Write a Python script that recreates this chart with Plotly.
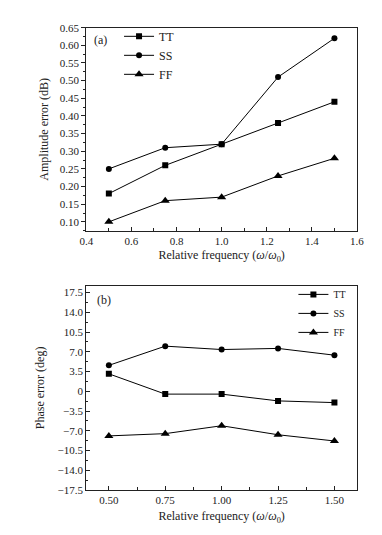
import plotly.graph_objects as go

# ---- data ----
freq = [0.50, 0.75, 1.00, 1.25, 1.50]
series_names = ["TT", "SS", "FF"]
amp_TT = [0.18, 0.26, 0.32, 0.38, 0.44]
amp_SS = [0.25, 0.31, 0.32, 0.51, 0.62]
amp_FF = [0.10, 0.16, 0.17, 0.23, 0.28]
phase_TT = [3.1, -0.5, -0.5, -1.7, -2.0]
phase_SS = [4.6, 8.0, 7.4, 7.6, 6.4]
phase_FF = [-7.9, -7.5, -6.1, -7.7, -8.8]

amp_yticks = [0.10, 0.15, 0.20, 0.25, 0.30, 0.35, 0.40, 0.45, 0.50, 0.55, 0.60, 0.65]
amp_xticks = [0.4, 0.6, 0.8, 1.0, 1.2, 1.4, 1.6]
phase_yticks = [17.5, 14.0, 10.5, 7.0, 3.5, 0, -3.5, -7.0, -10.5, -14.0, -17.5]
phase_yticktext = ["17.5", "14.0", "10.5", "7.0", "3.5", "0", "\u22123.5", "\u22127.0",
                   "\u221210.5", "\u221214.0", "\u221217.5"]
phase_xticks = [0.50, 0.75, 1.00, 1.25, 1.50]

FONT = "Liberation Serif"
INK = "#222222"
symbols = ["square", "circle", "triangle-up"]
sizes = [6, 6, 8]

fig = go.Figure()
for name, ys, sym, sz in zip(series_names, [amp_TT, amp_SS, amp_FF], symbols, sizes):
    fig.add_trace(go.Scatter(x=freq, y=ys, name=name, mode="lines+markers",
                             line=dict(color="black", width=1),
                             marker=dict(symbol=sym, color="black", size=sz),
                             xaxis="x", yaxis="y", legend="legend", legendgroup="a" + name))
for name, ys, sym, sz in zip(series_names, [phase_TT, phase_SS, phase_FF], symbols, sizes):
    fig.add_trace(go.Scatter(x=freq, y=ys, name=name, mode="lines+markers",
                             line=dict(color="black", width=1),
                             marker=dict(symbol=sym, color="black", size=sz),
                             xaxis="x2", yaxis="y2", legend="legend2", legendgroup="b" + name))

W, H = 382, 535
xd = [74 / W, 355 / W]
ya = [1 - 222 / H, 1 - 14 / H]
yb = [1 - 487 / H, 1 - 278 / H]

axis_common = dict(showline=True, linecolor=INK, linewidth=1, mirror=True,
                   tickcolor=INK, showgrid=False, zeroline=False,
                   tickfont=dict(family=FONT, size=11, color=INK))
xtitle = "Relative frequency (<i>\u03c9</i>/<i>\u03c9</i><sub>0</sub>)"
tfont = dict(family=FONT, size=12, color=INK)

fig.update_layout(
    width=W, height=H, margin=dict(l=0, r=0, t=0, b=0),
    paper_bgcolor="white", plot_bgcolor="white",
    font=dict(family=FONT, size=11, color=INK),
    xaxis=dict(domain=xd, anchor="y", range=[0.4, 1.6], tickvals=amp_xticks, tickformat=".1f",
               ticks="inside", ticklen=4,
               minor=dict(dtick=0.1, ticks="inside", ticklen=3, tickcolor=INK),
               title=dict(text=xtitle, font=tfont, standoff=4),
               **axis_common),
    yaxis=dict(domain=ya, anchor="x", range=[0.074, 0.65], tickvals=amp_yticks, tickformat=".2f",
               ticks="outside", ticklen=4,
               minor=dict(dtick=0.025, tick0=0.1, ticks="outside", ticklen=2, tickcolor=INK),
               title=dict(text="Amplitude error (dB)", font=tfont, standoff=8),
               **axis_common),
    xaxis2=dict(domain=xd, anchor="y2", range=[0.4, 1.6], tickvals=phase_xticks, tickformat=".2f",
                ticks="inside", ticklen=4,
                minor=dict(dtick=0.125, tick0=0.5, ticks="inside", ticklen=3, tickcolor=INK),
                title=dict(text=xtitle, font=tfont, standoff=6),
                **axis_common),
    yaxis2=dict(domain=yb, anchor="x2", range=[-17.5, 18.7], tickvals=phase_yticks, ticktext=phase_yticktext,
                ticks="inside", ticklen=4,
                minor=dict(dtick=1.75, tick0=0, ticks="inside", ticklen=2, tickcolor=INK),
                title=dict(text="Phase error (deg)", font=tfont, standoff=10),
                **axis_common),
    legend=dict(x=108 / W, y=1 - 8 / H, xanchor="left", yanchor="top", bgcolor="rgba(0,0,0,0)",
                font=dict(family=FONT, size=12, color=INK), itemwidth=30, tracegroupgap=0,
                traceorder="grouped"),
    legend2=dict(x=289 / W, y=1 - 272 / H, xanchor="left", yanchor="top", bgcolor="rgba(0,0,0,0)",
                 font=dict(family=FONT, size=10, color=INK), itemwidth=30, tracegroupgap=0,
                 traceorder="grouped"),
    annotations=[
        dict(text="(a)", x=80 / W, y=1 - 27 / H, xref="paper", yref="paper", xanchor="left",
             yanchor="middle", showarrow=False, font=dict(family=FONT, size=12, color=INK)),
        dict(text="(b)", x=83 / W, y=1 - 293 / H, xref="paper", yref="paper", xanchor="left",
             yanchor="middle", showarrow=False, font=dict(family=FONT, size=12, color=INK)),
    ],
)

fig.write_html("out.html")
